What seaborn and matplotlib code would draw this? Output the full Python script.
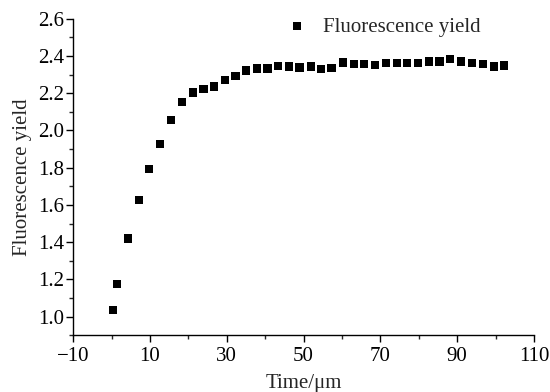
import pandas as pd
import matplotlib
matplotlib.use("Agg")
import matplotlib.pyplot as plt
from matplotlib.ticker import MultipleLocator
import seaborn as sns

# values
time = [0.4, 1.45, 4.2, 7.1, 9.8, 12.6, 15.5, 18.3, 21.2, 23.9, 26.7, 29.5,
        32.3, 35.0, 37.8, 40.6, 43.4, 46.2, 48.9, 51.9, 54.5, 57.3, 60.3,
        63.1, 65.7, 68.6, 71.5, 74.3, 76.9, 79.8, 82.7, 85.4, 88.1, 90.9,
        93.8, 96.7, 99.6, 102.2]
yield_ = [1.035, 1.174, 1.419, 1.627, 1.794, 1.928, 2.057, 2.154, 2.204,
          2.224, 2.236, 2.270, 2.294, 2.322, 2.333, 2.333, 2.347, 2.344,
          2.338, 2.344, 2.331, 2.336, 2.365, 2.356, 2.356, 2.353, 2.362,
          2.362, 2.362, 2.362, 2.370, 2.370, 2.383, 2.370, 2.362, 2.356,
          2.344, 2.349]
xticks = [-10, 10, 30, 50, 70, 90, 110]
yticks = [1.0, 1.2, 1.4, 1.6, 1.8, 2.0, 2.2, 2.4, 2.6]

df = pd.DataFrame({"Time": time, "Fluorescence yield": yield_})

sns.set_style("ticks")
plt.rcParams["font.family"] = ["Liberation Serif", "DejaVu Serif"]

fig = plt.figure(figsize=(5.5, 3.92), dpi=100)
ax = fig.add_axes([0.133, 0.145, 0.838, 0.807])

sns.scatterplot(data=df, x="Time", y="Fluorescence yield", marker="s",
                color="black", s=36, edgecolor="none",
                label="Fluorescence yield", ax=ax)

ax.set_xlim(-10, 110)
ax.set_ylim(0.9, 2.6)
ax.set_xticks(xticks)
ax.set_xticklabels([f"{v}".replace("-", "\u2212") for v in xticks])
ax.xaxis.set_minor_locator(MultipleLocator(10))
ax.set_yticks(yticks)
ax.set_yticklabels([f"{v:.1f}" for v in yticks])
ax.yaxis.set_minor_locator(MultipleLocator(0.1))
ax.tick_params(which="major", direction="out", length=5, width=1,
               labelsize=15, colors="black")
ax.tick_params(axis="y", which="major", pad=1.5)
ax.tick_params(which="minor", direction="out", length=3, width=1)

sns.despine(ax=ax)
for s in ["left", "bottom"]:
    ax.spines[s].set_linewidth(1)
    ax.spines[s].set_color("black")

ax.set_xlabel("Time/\u03bcm", fontsize=15, labelpad=5.5)
ax.set_ylabel("Fluorescence yield", fontsize=15, labelpad=4)

ax.legend(loc="upper left", bbox_to_anchor=(0.40, 1.065), frameon=False,
          fontsize=15, handletextpad=0.25, markerscale=1.0)

fig.savefig("out.png", dpi=100)
